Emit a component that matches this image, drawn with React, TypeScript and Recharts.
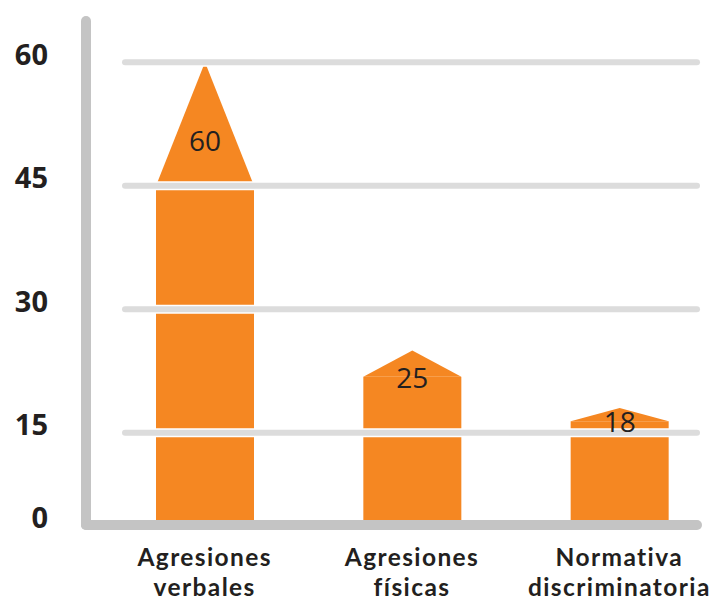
import React from 'react';
import { BarChart, Bar, XAxis, YAxis, ReferenceLine, LabelList } from 'recharts';

// ---- data ----
const catLine1 = ['Agresiones', 'Agresiones', 'Normativa'];
const catLine2 = ['verbales', 'físicas', 'discriminatoria'];
const values = [60, 25, 18];
// value at which each "house" roof starts (shoulder of the pentagon)
const shoulders = [45, 21.8, 16.4];
const gridTicks = [15, 30, 45, 60];
const Y_BASE = 3.8; // value on which the drawn baseline sits (labelled 0 in the reference)
const Y_TOP = 65;
const zeroLabel = '0';

const ORANGE = '#f58722';
const AXIS_GRAY = '#c4c4c4';
const GRID_GRAY = '#dcdcdc';
const TEXT = '#231f20';
const FONT = '"Open Sans", "DejaVu Sans", sans-serif';
const CAT_FONT = 'Lato, "Open Sans", sans-serif';

const data = values.map((v, i) => ({
  name: catLine1[i] + ' ' + catLine2[i],
  value: v,
  body: shoulders[i],
  roof: v - shoulders[i],
}));

const Roof = (p: any) => {
  const { x, y, width, height, fill } = p;
  if (width == null || height == null) return null;
  const d = `M${x},${y + height} L${x + width / 2},${y} L${x + width},${y + height} Z`;
  return <path d={d} fill={fill} />;
};

const ValueLabel = (p: any) => {
  const { x, y, width, height, value } = p;
  const cx = x + width / 2;
  const cy = Math.min(y + height, y + 78);
  return (
    <text x={cx} y={cy} textAnchor="middle" dominantBaseline="central" fontFamily={FONT} fontSize={28} fill={TEXT}>
      {value}
    </text>
  );
};

const GridLine = (p: any) => {
  const { x1, y1, x2, y2 } = p;
  const sx = x1 + 39;
  return (
    <g>
      <line x1={sx} y1={y1} x2={x2} y2={y2} stroke="#ffffff" strokeWidth={9} strokeLinecap="round" />
      <line x1={sx} y1={y1} x2={x2} y2={y2} stroke={GRID_GRAY} strokeWidth={6} strokeLinecap="round" />
    </g>
  );
};

const YTick = (p: any) => {
  const { x, y, payload } = p;
  const v = payload.value;
  const label = v === Y_BASE ? zeroLabel : String(v);
  return (
    <text x={x - 30} y={y - 9} textAnchor="end" dominantBaseline="central" fontFamily={FONT} fontWeight={700} fontSize={29} fill={TEXT}>
      {label}
    </text>
  );
};

const XTick = (p: any) => {
  const { x, y, index } = p;
  return (
    <g>
      <text x={x} y={y + 33} textAnchor="middle" fontFamily={CAT_FONT} fontWeight={700} fontSize={24.5} letterSpacing={1.4} fill={TEXT}>
        {catLine1[index]}
      </text>
      <text x={x} y={y + 62.5} textAnchor="middle" fontFamily={CAT_FONT} fontWeight={700} fontSize={24.5} letterSpacing={1.4} fill={TEXT}>
        {catLine2[index]}
      </text>
    </g>
  );
};

export default function App() {
  return (
    <div style={{ position: 'fixed', left: 0, top: 0, width: 718, height: 601, background: '#ffffff' }}>
      <BarChart width={718} height={601} data={data} margin={{ top: 21, right: 21, bottom: 0, left: 0 }} barSize={98}>
        <XAxis
          dataKey="name"
          padding={{ left: 15, right: -26 }}
          axisLine={{ stroke: AXIS_GRAY, strokeWidth: 10, strokeLinecap: 'round' }}
          tickLine={false}
          height={76}
          interval={0}
          tick={<XTick />}
        />
        <YAxis
          width={86}
          domain={[Y_BASE, Y_TOP]}
          allowDataOverflow
          ticks={[Y_BASE, ...gridTicks]}
          interval={0}
          axisLine={{ stroke: AXIS_GRAY, strokeWidth: 10, strokeLinecap: 'round' }}
          tickLine={false}
          tick={<YTick />}
        />
        <Bar dataKey="body" stackId="h" fill={ORANGE} isAnimationActive={false} />
        <Bar dataKey="roof" stackId="h" fill={ORANGE} shape={<Roof />} isAnimationActive={false}>
          <LabelList dataKey="value" content={<ValueLabel />} />
        </Bar>
        {gridTicks.map((t) => (
          <ReferenceLine key={t} y={t} shape={<GridLine />} />
        ))}
      </BarChart>
    </div>
  );
}
